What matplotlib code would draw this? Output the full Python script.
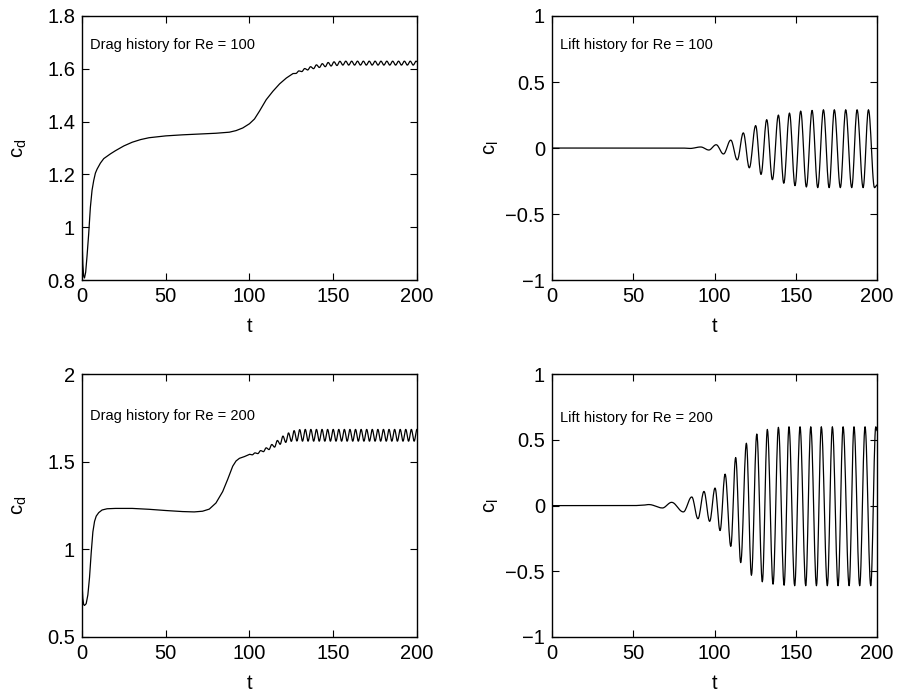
import numpy as np
import matplotlib
matplotlib.use("Agg")
import matplotlib.pyplot as plt

plt.rcParams['font.family'] = ['Liberation Sans', 'DejaVu Sans']

# ---- drag, Re = 100 : smooth start, then the turning points of the wiggles
drag100_t = [0, 0.5, 1.0, 1.5, 2.2, 3, 4, 5, 6, 7, 8, 9, 11, 13, 17, 20, 25, 30, 35, 40,
             50, 60, 70, 80, 88, 92, 96, 100, 103, 106, 110, 114, 118, 122]
drag100_v = [0.96, 0.86, 0.815, 0.808, 0.83, 0.89, 0.975, 1.075, 1.14, 1.177, 1.205, 1.22,
             1.243, 1.26, 1.278, 1.29, 1.308, 1.322, 1.332, 1.339, 1.346, 1.35, 1.353,
             1.356, 1.36, 1.366, 1.376, 1.392, 1.41, 1.44, 1.483, 1.515, 1.543, 1.565]
drag100_osc_t = [126.0, 127.75, 129.5, 131.25, 133.0, 134.75, 136.5, 138.25, 140.0, 141.75,
                 143.5, 145.25, 147.0, 148.75, 150.5, 152.25, 154.0, 155.75, 157.5, 159.25,
                 161.0, 162.75, 164.5, 166.25, 168.0, 169.75, 171.5, 173.25, 175.0, 176.75,
                 178.5, 180.25, 182.0, 183.75, 185.5, 187.25, 189.0, 190.75, 192.5, 194.25,
                 196.0, 197.75, 199.5, 200.0]
drag100_osc_v = [1.582, 1.5825, 1.592, 1.5895, 1.601, 1.5955, 1.608, 1.6005, 1.615, 1.605,
                 1.6195, 1.608, 1.624, 1.6105, 1.6265, 1.6125, 1.6285, 1.614, 1.629, 1.614,
                 1.629, 1.614, 1.629, 1.614, 1.629, 1.614, 1.629, 1.614, 1.629, 1.614,
                 1.629, 1.614, 1.629, 1.614, 1.629, 1.614, 1.629, 1.614, 1.629, 1.614,
                 1.629, 1.614, 1.629, 1.627]

# ---- lift, Re = 100 : turning points
lift100_t = [0, 80, 85, 91.5, 96.5, 101, 105.5, 110, 114, 117.7, 121.4, 125.3, 128.6, 132.1,
             135.6, 139.3, 142.6, 146.1, 149.5, 153, 156.5, 160, 163.5, 167, 170.5, 173.7,
             177.4, 180.7, 184.4, 187.7, 191.4, 194.7, 198.4, 200]
lift100_v = [0, 0, -0.003, 0.008, -0.015, 0.025, -0.045, 0.06, -0.09, 0.115, -0.15, 0.17,
             -0.20, 0.215, -0.24, 0.25, -0.267, 0.265, -0.285, 0.28, -0.295, 0.285, -0.30,
             0.29, -0.30, 0.29, -0.30, 0.29, -0.30, 0.29, -0.30, 0.29, -0.30, -0.28]

# ---- drag, Re = 200
drag200_t = [0, 0.5, 1.0, 1.5, 2.5, 3.5, 4.5, 5.5, 6.5, 7.5, 8.5, 10, 12, 15, 20, 30, 40,
             50, 60, 67, 72, 76, 80, 84, 87, 90, 92, 94, 97]
drag200_v = [0.81, 0.72, 0.685, 0.68, 0.69, 0.74, 0.84, 0.98, 1.10, 1.16, 1.19, 1.21, 1.225,
             1.232, 1.234, 1.234, 1.229, 1.222, 1.216, 1.214, 1.218, 1.23, 1.265, 1.33,
             1.40, 1.475, 1.505, 1.52, 1.53]
drag200_osc_t = [100.0, 101.67, 103.33, 105.0, 106.67, 108.33, 110.0, 111.67, 113.33, 115.0,
                 116.67, 118.33, 120.0, 121.67, 123.33, 125.0, 126.67, 128.33, 130.0, 131.67,
                 133.33, 135.0, 136.67, 138.33, 140.0, 141.67, 143.33, 145.0, 146.67, 148.33,
                 150.0, 151.67, 153.33, 155.0, 156.67, 158.33, 160.0, 161.67, 163.33, 165.0,
                 166.67, 168.33, 170.0, 171.67, 173.33, 175.0, 176.67, 178.33, 180.0, 181.67,
                 183.33, 185.0, 186.67, 188.33, 190.0, 191.67, 193.33, 195.0, 196.67, 198.33,
                 200.0]
drag200_osc_v = [1.543, 1.540, 1.551, 1.547, 1.564, 1.558, 1.580, 1.570, 1.599, 1.584,
                 1.622, 1.600, 1.647, 1.611, 1.665, 1.617, 1.678, 1.619, 1.684, 1.618,
                 1.685, 1.618, 1.685, 1.618, 1.685, 1.618, 1.685, 1.618, 1.685, 1.618,
                 1.685, 1.618, 1.685, 1.618, 1.685, 1.618, 1.685, 1.618, 1.685, 1.618,
                 1.685, 1.618, 1.685, 1.618, 1.685, 1.618, 1.685, 1.618, 1.685, 1.618,
                 1.685, 1.618, 1.685, 1.618, 1.685, 1.618, 1.685, 1.618, 1.685, 1.618,
                 1.685]

# ---- lift, Re = 200 : turning points
lift200_t = [0, 50, 55, 59.7, 67.9, 73.6, 80.8, 86.0, 89.8, 93.5, 97.0, 100.3, 103.4, 106.5,
             110, 113, 116.1, 119.6, 122.7, 126.0, 129.4, 132.5, 136.0, 139.3, 142.8, 145.8,
             149.3, 152.6, 156.1, 159.2, 162.7, 165.7, 169.4, 172.5, 176.0, 179.1, 182.8,
             185.8, 189.3, 192.6, 196.1, 199.2, 200]
lift200_v = [0, 0, 0.002, 0.008, -0.018, 0.025, -0.048, 0.066, -0.10, 0.108, -0.12, 0.134,
             -0.19, 0.24, -0.31, 0.366, -0.434, 0.475, -0.53, 0.545, -0.58, 0.58, -0.598,
             0.596, -0.606, 0.60, -0.61, 0.60, -0.61, 0.60, -0.61, 0.60, -0.61, 0.60, -0.61,
             0.60, -0.61, 0.60, -0.61, 0.60, -0.61, 0.60, 0.57]


def wave(t, v, n=14):
    # join consecutive turning points with half cosine arcs
    xs, ys = [t[0]], [v[0]]
    s = np.linspace(0, 1, n)[1:]
    for i in range(len(t) - 1):
        xs.extend(t[i] + (t[i + 1] - t[i]) * s)
        ys.extend(v[i] + (v[i + 1] - v[i]) * (1 - np.cos(np.pi * s)) / 2)
    return np.array(xs), np.array(ys)


def style(ax, yticks, ylim, ylabel, label, ypad):
    ax.set_xlim(0, 200)
    ax.set_ylim(*ylim)
    ax.set_xticks([0, 50, 100, 150, 200])
    ax.set_yticks(yticks)
    ax.set_yticklabels([('%g' % y).replace('-', '\u2212') for y in yticks])
    ax.tick_params(direction='in', top=True, right=True, length=5, width=0.8,
                   labelsize=14.5, pad=5)
    for sp in ax.spines.values():
        sp.set_linewidth(1.0)
    ax.set_xlabel('t', fontsize=14.5, labelpad=8)
    ax.set_ylabel(ylabel, fontsize=14.5, labelpad=ypad)
    ax.text(0.025, label[1], label[0], transform=ax.transAxes, fontsize=10.5,
            va='center', ha='left')


fig = plt.figure(figsize=(8.98, 6.95), dpi=100)
ax1 = fig.add_axes([0.0913, 0.597, 0.373, 0.380])
ax2 = fig.add_axes([0.6147, 0.597, 0.362, 0.380])
ax3 = fig.add_axes([0.0913, 0.0835, 0.373, 0.378])
ax4 = fig.add_axes([0.6147, 0.0835, 0.362, 0.378])

lw = 0.9
x, y = wave(drag100_osc_t, drag100_osc_v)
ax1.plot(np.concatenate([drag100_t, x]), np.concatenate([drag100_v, y]), color='black', lw=lw)
style(ax1, [0.8, 1, 1.2, 1.4, 1.6, 1.8], (0.8, 1.8), r'$\mathregular{c_d}$',
      ('Drag history for Re = 100', 0.89), 13)

x, y = wave(lift100_t, lift100_v)
ax2.plot(x, y, color='black', lw=lw)
style(ax2, [-1, -0.5, 0, 0.5, 1], (-1, 1), r'$\mathregular{c_l}$',
      ('Lift history for Re = 100', 0.89), 3)

x, y = wave(drag200_osc_t, drag200_osc_v)
ax3.plot(np.concatenate([drag200_t, x]), np.concatenate([drag200_v, y]), color='black', lw=lw)
style(ax3, [0.5, 1, 1.5, 2], (0.5, 2), r'$\mathregular{c_d}$',
      ('Drag history for Re = 200', 0.843), 13)

x, y = wave(lift200_t, lift200_v)
ax4.plot(x, y, color='black', lw=lw)
style(ax4, [-1, -0.5, 0, 0.5, 1], (-1, 1), r'$\mathregular{c_l}$',
      ('Lift history for Re = 200', 0.833), 3)

fig.savefig('out.png', dpi=100)
